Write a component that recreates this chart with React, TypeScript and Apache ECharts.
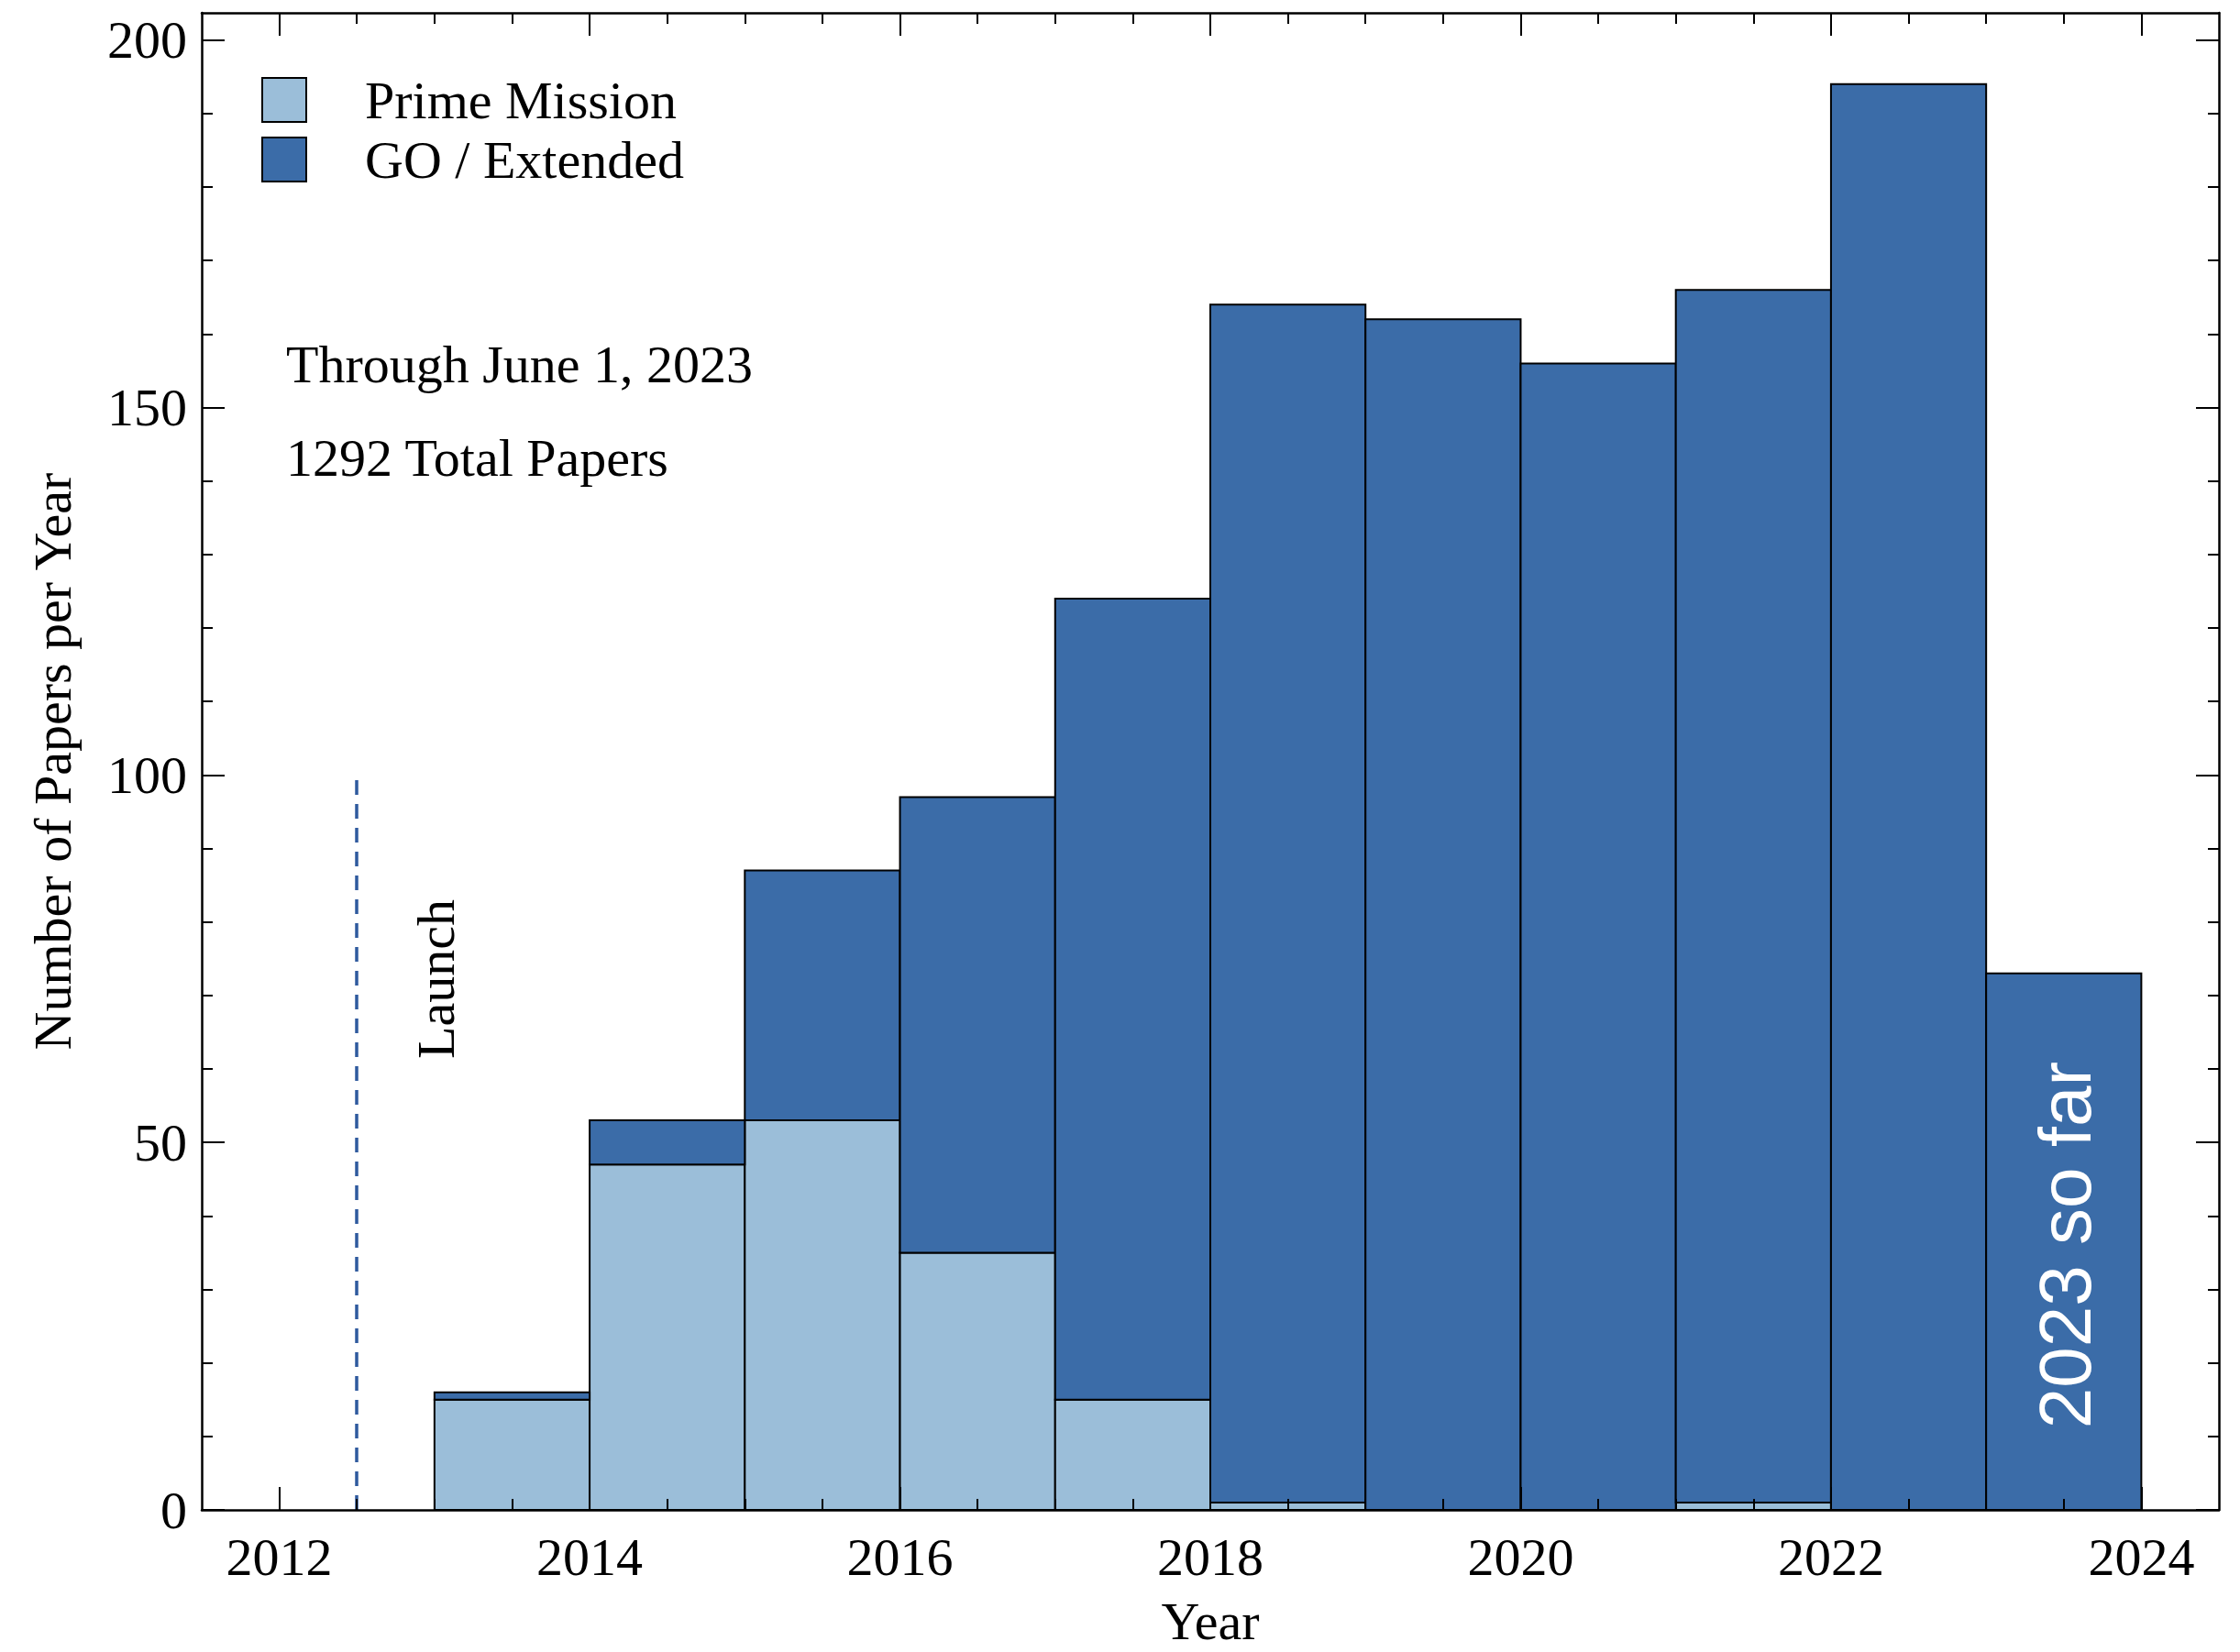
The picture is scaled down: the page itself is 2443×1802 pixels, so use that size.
import { useEffect, useRef } from "react";
import * as echarts from "echarts";

// ---- data ----
const YEARS = [2013, 2014, 2015, 2016, 2017, 2018, 2019, 2020, 2021, 2022, 2023];
const PRIME = [15, 47, 53, 35, 15, 1, 0, 0, 1, 0, 0];
const GO_EXT = [1, 6, 34, 62, 109, 163, 162, 156, 165, 194, 73];

const X_MIN = 2011.5;
const X_MAX = 2024.5;
const Y_MAX = 203.7;
const X_MAJOR = [2012, 2014, 2016, 2018, 2020, 2022, 2024];
const X_MINOR = [
  2012.5, 2013, 2013.5, 2014.5, 2015, 2015.5, 2016.5, 2017, 2017.5, 2018.5, 2019, 2019.5,
  2020.5, 2021, 2021.5, 2022.5, 2023, 2023.5,
];
const Y_MAJOR = [0, 50, 100, 150, 200];
const Y_MINOR = [10, 20, 30, 40, 60, 70, 80, 90, 110, 120, 130, 140, 160, 170, 180, 190];

const LAUNCH_YEAR = 2012.5;
const LAUNCH_HEIGHT = 100;

const NAMES = ["Prime Mission", "GO / Extended"];
const COLORS = ["#9bbed9", "#3b6ca8"];

const SERIF = "Liberation Serif";
const SANS = "Liberation Sans";

export default function App() {
  const ref = useRef<HTMLDivElement>(null);

  useEffect(() => {
    if (!ref.current) return;
    const chart = echarts.init(ref.current, null, { renderer: "svg" });

    const primeData = YEARS.map((y, i) => [y, 0, PRIME[i]]);
    const goData = YEARS.map((y, i) => [y, PRIME[i], PRIME[i] + GO_EXT[i]]);

    const renderBar = (params: any, api: any) => {
      const x0 = api.value(0);
      const lo = api.value(1);
      const hi = api.value(2);
      if (hi <= lo) return null;
      const p0 = api.coord([x0, hi]);
      const p1 = api.coord([x0 + 1, lo]);
      return {
        type: "rect",
        shape: { x: p0[0], y: p0[1], width: p1[0] - p0[0], height: p1[1] - p0[1] },
        style: { fill: api.visual("color"), stroke: "#000", lineWidth: 2 },
      };
    };

    const lineStyle = { color: "#000", width: 2.5 };
    const tickStyle = { color: "#000", width: 2 };

    const xAxisDef = (position: string, major: boolean, withLabel: boolean) => ({
      type: "value",
      position,
      min: X_MIN,
      max: X_MAX,
      z: 10,
      splitLine: { show: false },
      axisLine: { show: major, onZero: false, lineStyle },
      axisTick: {
        show: true,
        inside: true,
        length: major ? 25 : 12,
        lineStyle: tickStyle,
        customValues: major ? X_MAJOR : X_MINOR,
      },
      axisLabel: withLabel
        ? {
            show: true,
            customValues: X_MAJOR,
            formatter: (v: number) => String(v),
            margin: 22,
            fontFamily: SERIF,
            fontSize: 58,
            color: "#000",
          }
        : { show: false },
      ...(withLabel
        ? {
            name: "Year",
            nameLocation: "middle",
            nameGap: 92,
            nameTextStyle: { fontFamily: SERIF, fontSize: 58, color: "#000" },
          }
        : {}),
    });

    const yAxisDef = (position: string, major: boolean, withLabel: boolean) => ({
      type: "value",
      position,
      min: 0,
      max: Y_MAX,
      z: 10,
      splitLine: { show: false },
      axisLine: { show: major, onZero: false, lineStyle },
      axisTick: {
        show: true,
        inside: true,
        length: major ? 25 : 12,
        lineStyle: tickStyle,
        customValues: major ? Y_MAJOR : Y_MINOR,
      },
      axisLabel: withLabel
        ? {
            show: true,
            customValues: Y_MAJOR,
            formatter: (v: number) => String(v),
            margin: 16,
            fontFamily: SERIF,
            fontSize: 58,
            color: "#000",
          }
        : { show: false },
      ...(withLabel
        ? {
            name: "Number of Papers per Year",
            nameLocation: "middle",
            nameGap: 134,
            nameTextStyle: { fontFamily: SERIF, fontSize: 58, color: "#000" },
          }
        : {}),
    });

    chart.setOption({
      animation: false,
      backgroundColor: "#fff",
      grid: { left: 220, right: 23, top: 14, bottom: 148, containLabel: false },
      xAxis: [
        xAxisDef("bottom", true, true),
        xAxisDef("bottom", false, false),
        xAxisDef("top", true, false),
        xAxisDef("top", false, false),
      ],
      yAxis: [
        yAxisDef("left", true, true),
        yAxisDef("left", false, false),
        yAxisDef("right", true, false),
        yAxisDef("right", false, false),
      ],
      legend: {
        orient: "vertical",
        left: 285,
        top: 80,
        padding: 0,
        itemWidth: 48,
        itemHeight: 48,
        itemGap: 7,
        selectedMode: false,
        textStyle: {
          fontFamily: SERIF,
          fontSize: 58,
          color: "#000",
          padding: [0, 0, 0, 59],
        },
        data: NAMES.map((n, i) => ({
          name: n,
          icon: "rect",
          itemStyle: { color: COLORS[i], borderColor: "#000", borderWidth: 2 },
        })),
      },
      series: [
        {
          name: NAMES[0],
          type: "custom",
          xAxisIndex: 0,
          yAxisIndex: 0,
          renderItem: renderBar,
          itemStyle: { color: COLORS[0] },
          encode: { x: 0, y: [1, 2] },
          data: primeData,
          z: 2,
          markLine: {
            silent: true,
            symbol: "none",
            label: { show: false },
            lineStyle: { color: "#2f5a9e", width: 3.5, type: [16, 10] },
            data: [[{ coord: [LAUNCH_YEAR, 0] }, { coord: [LAUNCH_YEAR, LAUNCH_HEIGHT] }]],
          },
        },
        {
          name: NAMES[1],
          type: "custom",
          xAxisIndex: 0,
          yAxisIndex: 0,
          renderItem: renderBar,
          itemStyle: { color: COLORS[1] },
          encode: { x: 0, y: [1, 2] },
          data: goData,
          z: 2,
        },
      ],
      graphic: [
        {
          type: "text",
          left: 312,
          top: 397 - 29,
          z: 20,
          style: { text: "Through June 1, 2023", font: `58px "${SERIF}"`, fill: "#000" },
        },
        {
          type: "text",
          left: 312,
          top: 499 - 29,
          z: 20,
          style: { text: "1292 Total Papers", font: `58px "${SERIF}"`, fill: "#000" },
        },
        {
          type: "text",
          x: 475,
          y: 1068,
          rotation: Math.PI / 2,
          z: 20,
          style: {
            text: "Launch",
            font: `58px "${SERIF}"`,
            fill: "#000",
            align: "center",
            verticalAlign: "middle",
          },
        },
        {
          type: "text",
          x: 2252,
          y: 1358,
          rotation: Math.PI / 2,
          z: 20,
          style: {
            text: "2023 so far",
            font: `80px "${SANS}"`,
            fill: "#fff",
            align: "center",
            verticalAlign: "middle",
          },
        },
      ],
    });

    return () => chart.dispose();
  }, []);

  return (
    <div
      ref={ref}
      style={{ position: "fixed", left: 0, top: 0, width: 2443, height: 1802 }}
    />
  );
}
